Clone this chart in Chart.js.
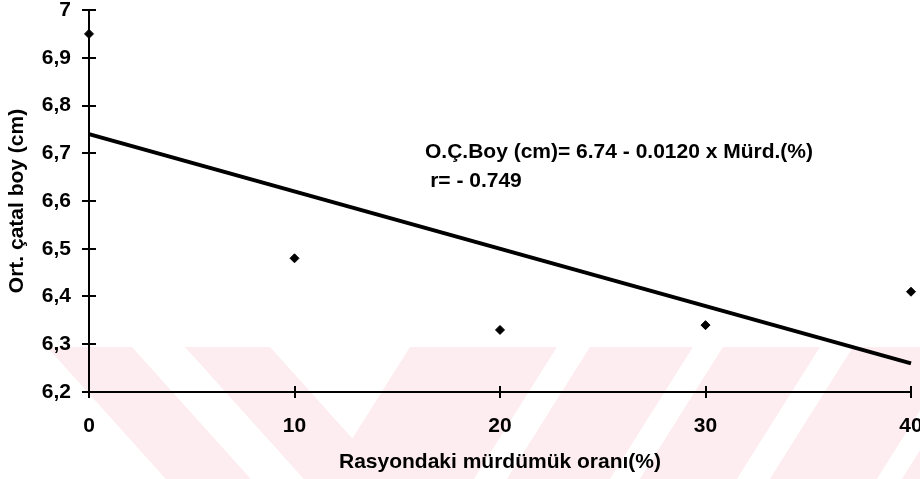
<!DOCTYPE html>
<html>
<head>
<meta charset="utf-8">
<script src="https://cdn.jsdelivr.net/npm/chart.js@4/dist/chart.umd.min.js"></script>
<style>
  html, body { margin: 0; padding: 0; background: #fff; }
  #canvas { display: block; }
</style>
</head>
<body>
<canvas id="canvas" width="920" height="479"></canvas>
<script>
// mürdümük oranı (%) vs ortalama çatal boy (cm)
var murdumukOrani = [0, 10, 20, 30, 40];
var catalBoy = [6.95, 6.48, 6.33, 6.34, 6.41];

// regression line: O.Ç.Boy = 6.74 - 0.0120 x Mürd.
var trendX = [0, 40];
var trendY = [6.74, 6.26];

var xTicks = [0, 10, 20, 30, 40];
var yTicks = [6.2, 6.3, 6.4, 6.5, 6.6, 6.7, 6.8, 6.9, 7];

var equationLines = ["O.Ç.Boy (cm)= 6.74 - 0.0120 x Mürd.(%)", "r= - 0.749"];

var fontFamily = "'Liberation Sans', Arial, sans-serif";
var pink = "#fdecf0";

function toPoints(xs, ys) {
    var out = [];
    for (var i = 0; i < xs.length; i++) {
        out.push({ x: xs[i], y: ys[i] });
    }
    return out;
}

function commaNumber(v) {
    return String(Number(v.toFixed(1))).replace(".", ",");
}

// faint striped stamp in the lower band of the page
var stampPlugin = {
    id: "stamp",
    beforeDraw: function (chart) {
        var ctx = chart.ctx;
        var top = 347, bottom = chart.height;
        var h = bottom - top;
        // [left at top, right at top, horizontal drift per px down]
        var stripes = [
            [47, 132, 0.9], [185, 270, 0.9],
            [410, 557, -0.63], [590, 693, -0.63], [723, 820, -0.63],
            [853, 960, -0.63], [985, 1100, -0.63]
        ];
        ctx.save();
        ctx.fillStyle = pink;
        stripes.forEach(function (s) {
            ctx.beginPath();
            ctx.moveTo(s[0], top);
            ctx.lineTo(s[1], top);
            ctx.lineTo(s[1] + s[2] * h, bottom);
            ctx.lineTo(s[0] + s[2] * h, bottom);
            ctx.closePath();
            ctx.fill();
        });
        ctx.restore();
    }
};

// tick marks crossing both sides of each axis
var crossTicksPlugin = {
    id: "crossTicks",
    afterDatasetsDraw: function (chart) {
        var ctx = chart.ctx;
        var xs = chart.scales.x, ys = chart.scales.y;
        var axisX = chart.chartArea.left, axisY = chart.chartArea.bottom;
        ctx.save();
        ctx.strokeStyle = "#000";
        ctx.lineWidth = 2;
        ctx.beginPath();
        yTicks.forEach(function (v) {
            var py = Math.round(ys.getPixelForValue(v));
            ctx.moveTo(axisX - 7, py);
            ctx.lineTo(axisX + 7, py);
        });
        xTicks.forEach(function (v) {
            var px = Math.round(xs.getPixelForValue(v));
            ctx.moveTo(px, axisY - 6);
            ctx.lineTo(px, axisY + 6);
        });
        ctx.stroke();
        ctx.restore();
    }
};

var equationPlugin = {
    id: "equation",
    afterDraw: function (chart) {
        var ctx = chart.ctx;
        var xs = chart.scales.x, ys = chart.scales.y;
        ctx.save();
        ctx.fillStyle = "#000";
        ctx.font = "bold 21px " + fontFamily;
        ctx.textBaseline = "alphabetic";
        ctx.textAlign = "left";
        ctx.fillText(equationLines[0], xs.getPixelForValue(16.35), ys.getPixelForValue(6.69));
        ctx.fillText(equationLines[1], xs.getPixelForValue(16.6), ys.getPixelForValue(6.629));
        ctx.restore();
    }
};

var ctx = document.getElementById("canvas").getContext("2d");
var myChart = new Chart(ctx, {
    type: "scatter",
    data: {
        datasets: [{
            type: "line",
            data: toPoints(trendX, trendY),
            borderColor: "#000",
            borderWidth: 4,
            pointRadius: 0,
            fill: false,
            clip: false,
            order: 1
        }, {
            data: toPoints(murdumukOrani, catalBoy),
            pointStyle: "rectRot",
            pointRadius: 4.5,
            backgroundColor: "#000",
            borderColor: "#000",
            borderWidth: 1,
            clip: false,
            order: 0
        }]
    },
    options: {
        responsive: false,
        animation: false,
        devicePixelRatio: 1,
        layout: { padding: { top: 10, right: 9, left: 0, bottom: 0 } },
        plugins: {
            legend: { display: false },
            tooltip: { enabled: false }
        },
        scales: {
            x: {
                type: "linear",
                min: 0,
                max: 40,
                grid: { display: false, drawTicks: false },
                border: { display: true, color: "#000", width: 2 },
                ticks: {
                    stepSize: 10,
                    padding: 22,
                    color: "#000",
                    font: { family: fontFamily, size: 21, weight: "bold" }
                },
                title: {
                    display: true,
                    text: "Rasyondaki mürdümük oranı(%)",
                    color: "#000",
                    font: { family: fontFamily, size: 21, weight: "bold" },
                    padding: { top: 0, bottom: 4 }
                },
                afterFit: function (scale) {
                    scale.height = 87;
                    scale.paddingLeft = 0;
                    scale.paddingRight = 0;
                }
            },
            y: {
                type: "linear",
                min: 6.2,
                max: 7,
                grid: { display: false, drawTicks: false },
                border: { display: true, color: "#000", width: 2 },
                ticks: {
                    stepSize: 0.1,
                    padding: 18,
                    color: "#000",
                    font: { family: fontFamily, size: 21, weight: "bold" },
                    callback: function (value) { return commaNumber(value); }
                },
                title: {
                    display: true,
                    text: "Ort. çatal boy (cm)",
                    color: "#000",
                    font: { family: fontFamily, size: 21, weight: "bold" },
                    padding: { top: 5, bottom: 0 }
                },
                afterFit: function (scale) {
                    scale.width = 89;
                    scale.paddingTop = 0;
                    scale.paddingBottom = 0;
                }
            }
        }
    },
    plugins: [stampPlugin, crossTicksPlugin, equationPlugin]
});
</script>
</body>
</html>
